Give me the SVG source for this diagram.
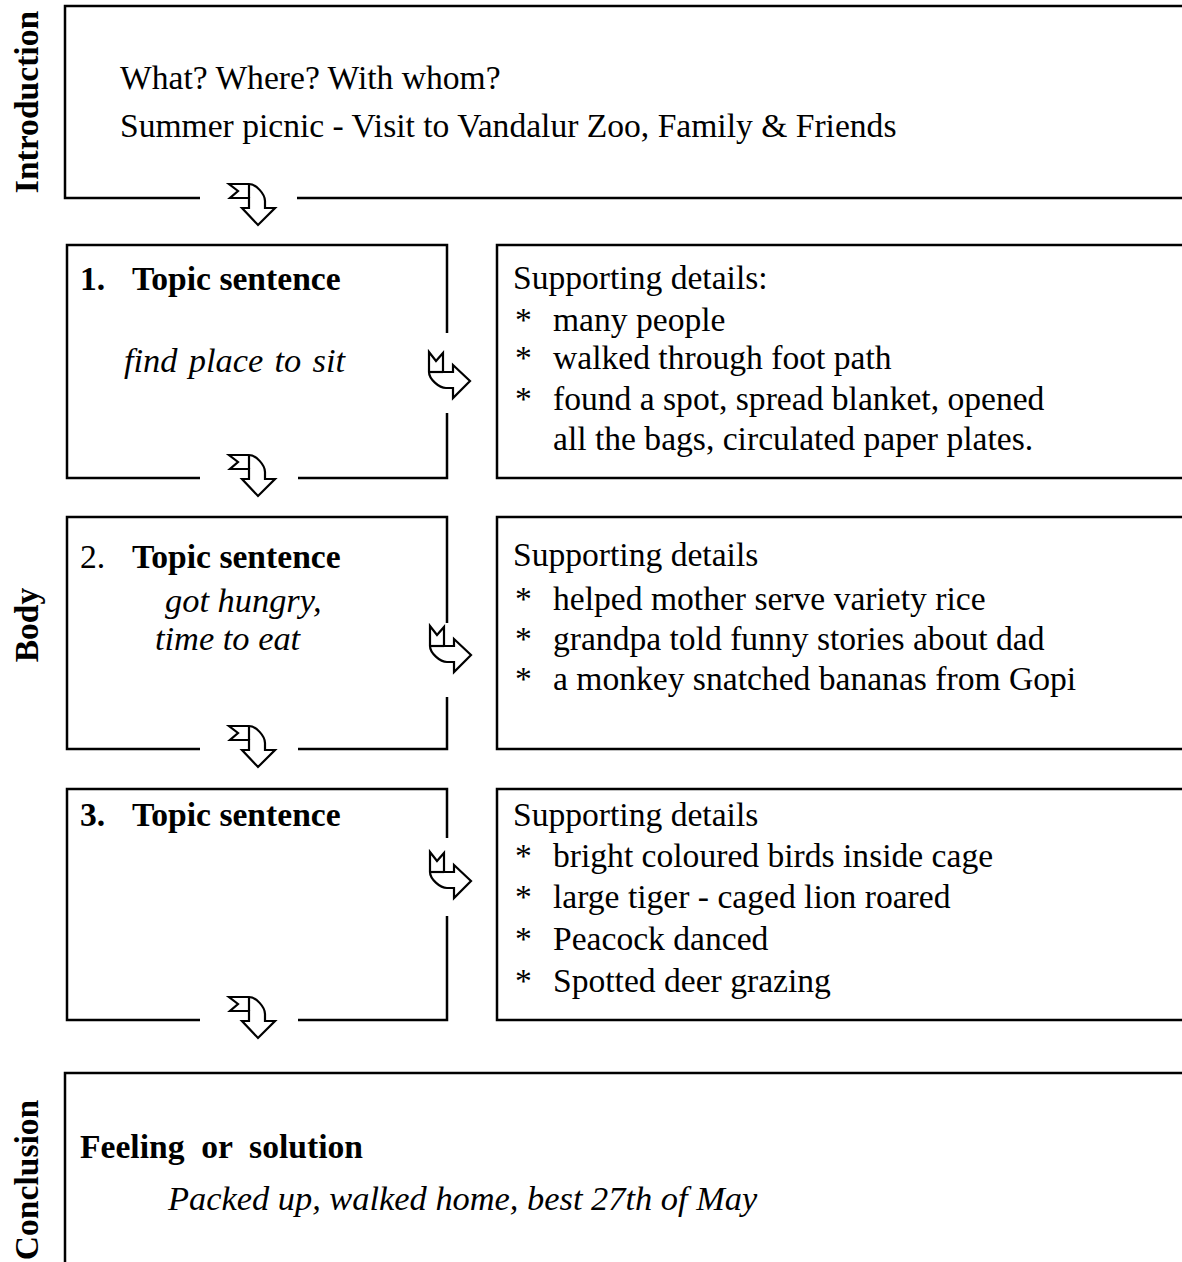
<svg xmlns="http://www.w3.org/2000/svg" xmlns:xlink="http://www.w3.org/1999/xlink" width="1182" height="1262" viewBox="0 0 1182 1262">
<style>
  .ln { fill: none; stroke: #000; stroke-width: 2.5; }
  .ar { fill: #fff; stroke: #000; stroke-width: 2.2; stroke-linejoin: miter; }
  .t { font-family: "Liberation Serif", "Times New Roman", serif; font-size: 33.6px; fill: #000; }
  .b { font-weight: bold; }
  .i { font-style: italic; font-size: 34.4px; }
</style>
<defs>
  <g id="arrowDown">
    <path class="ar" d="M0,0 L20,0 C27,0 36,10 36,17 L36,24 L46,24 L29,41 L13,24 L20,24 L20,14 L1,14 L9,7 Z"/>
    <path class="ar" d="M20,1 L20,14"/>
  </g>
</defs>
<rect width="1182" height="1262" fill="#fff"/>

<g id="side-labels">
  <text class="t b" transform="translate(38,102) rotate(-90)" text-anchor="middle">Introduction</text>
  <text class="t b" transform="translate(38,625) rotate(-90)" text-anchor="middle">Body</text>
  <text class="t b" transform="translate(38,1180) rotate(-90)" text-anchor="middle">Conclusion</text>
</g>

<g id="introduction">
  <path class="ln" d="M200,198 L65,198 L65,6 L1182,6 M297,198 L1182,198"/>
  <text class="t" x="120" y="89">What? Where? With whom?</text>
  <text class="t" x="120" y="137">Summer picnic - Visit to Vandalur Zoo, Family &amp; Friends</text>
</g>

<g id="topic1">
  <path class="ln" d="M200,478 L67,478 L67,245 L447,245 L447,333 M447,413 L447,478 L298,478"/>
  <text class="t b" x="80" y="290">1.<tspan x="132">Topic sentence</tspan></text>
  <text class="t i" x="124" y="372" word-spacing="2.7">find place to sit</text>
</g>

<g id="details1">
  <path class="ln" d="M1182,245 L497,245 L497,478 L1182,478"/>
  <text class="t" x="513" y="289">Supporting details:</text>
  <text class="t" x="515" y="331">*</text><text class="t" x="553" y="331">many people</text>
  <text class="t" x="515" y="369">*</text><text class="t" x="553" y="369">walked through foot path</text>
  <text class="t" x="515" y="410">*</text><text class="t" x="553" y="410">found a spot, spread blanket, opened</text>
  <text class="t" x="553" y="450">all the bags, circulated paper plates.</text>
</g>

<g id="topic2">
  <path class="ln" d="M200,749 L67,749 L67,517 L447,517 L447,623 M447,697 L447,749 L298,749"/>
  <text class="t" x="80" y="568">2.</text><text class="t b" x="132" y="568">Topic sentence</text>
  <text class="t i" x="165" y="612">got hungry,</text>
  <text class="t i" x="155" y="650">time to eat</text>
</g>

<g id="details2">
  <path class="ln" d="M1182,517 L497,517 L497,749 L1182,749"/>
  <text class="t" x="513" y="566">Supporting details</text>
  <text class="t" x="515" y="610">*</text><text class="t" x="553" y="610">helped mother serve variety rice</text>
  <text class="t" x="515" y="650">*</text><text class="t" x="553" y="650">grandpa told funny stories about dad</text>
  <text class="t" x="515" y="690">*</text><text class="t" x="553" y="690">a monkey snatched bananas from Gopi</text>
</g>

<g id="topic3">
  <path class="ln" d="M200,1020 L67,1020 L67,789 L447,789 L447,838 M447,916 L447,1020 L298,1020"/>
  <text class="t b" x="80" y="826">3.<tspan x="132">Topic sentence</tspan></text>
</g>

<g id="details3">
  <path class="ln" d="M1182,789 L497,789 L497,1020 L1182,1020"/>
  <text class="t" x="513" y="826">Supporting details</text>
  <text class="t" x="515" y="867">*</text><text class="t" x="553" y="867">bright coloured birds inside cage</text>
  <text class="t" x="515" y="908">*</text><text class="t" x="553" y="908">large tiger - caged lion roared</text>
  <text class="t" x="515" y="950">*</text><text class="t" x="553" y="950">Peacock danced</text>
  <text class="t" x="515" y="992">*</text><text class="t" x="553" y="992">Spotted deer grazing</text>
</g>

<g id="conclusion">
  <path class="ln" d="M65,1262 L65,1073 L1182,1073"/>
  <text class="t b" x="80" y="1158" xml:space="preserve">Feeling  or  solution</text>
  <text class="t i" x="168" y="1210">Packed up, walked home, best 27th of May</text>
</g>

<g id="connectors">
  <use xlink:href="#arrowDown" x="229" y="184"/>
  <use xlink:href="#arrowDown" x="229" y="455"/>
  <use xlink:href="#arrowDown" x="229" y="726"/>
  <use xlink:href="#arrowDown" x="229" y="997"/>
  <use xlink:href="#arrowDown" transform="matrix(0,1,1,0,429,352)"/>
  <use xlink:href="#arrowDown" transform="matrix(0,1,1,0,430,626)"/>
  <use xlink:href="#arrowDown" transform="matrix(0,1,1,0,430,852)"/>
</g>
</svg>
